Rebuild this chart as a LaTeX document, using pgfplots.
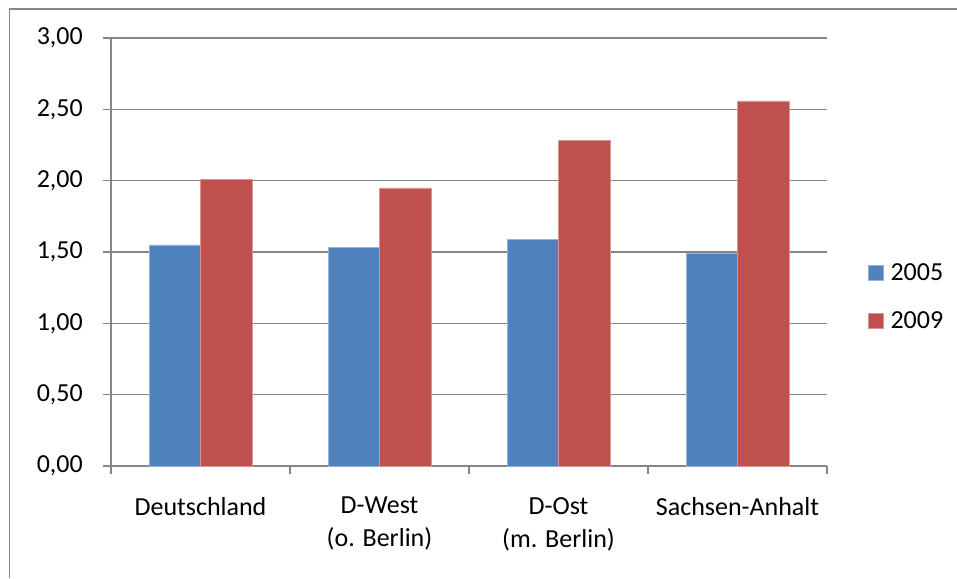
\documentclass[border=0pt]{standalone}
\usepackage{fontspec}
\setmainfont{Carlito}
\usepackage{pgfplots}
\pgfplotsset{compat=1.18}
\definecolor{cblue}{HTML}{4F81BD}
\definecolor{cred}{HTML}{C0504D}
\definecolor{agray}{HTML}{868686}
\begin{document}
\begin{tikzpicture}
\useasboundingbox (0pt,0pt) rectangle (957pt,578pt);
\draw[agray, line width=1.3pt] (9.5pt,0pt) -- (9.5pt,569pt) -- (957pt,569pt);
\begin{axis}[
  at={(111pt,112pt)}, anchor=south west,
  scale only axis, width=716pt, height=428pt,
  xmin=-0.5, xmax=3.5, ymin=0, ymax=3,
  ybar=0pt, bar width=51.5pt,
  axis x line=bottom, axis y line=left,
  axis line style={-, agray, line width=1.3pt},
  ymajorgrids, grid style={agray, line width=1.3pt},
  ytick={0,0.5,1,1.5,2,2.5,3},
  /pgf/number format/fixed, /pgf/number format/fixed zerofill,
  /pgf/number format/precision=2, /pgf/number format/use comma,
  /pgf/number format/assume math mode=true,
  yticklabel style={font=\fontsize{26}{30}\selectfont, anchor=east, inner sep=0pt, xshift=-20pt},
  tick align=outside, major tick length=8pt, tick style={agray, line width=1.3pt},
  xtick={-0.5,0.5,1.5,2.5,3.5}, x tick label as interval,
  xticklabels={Deutschland, {D-West\\(o. Berlin)}, {D-Ost\\(m. Berlin)}, Sachsen-Anhalt},
  xticklabel style={font=\fontsize{26}{33}\selectfont, align=center, anchor=north, inner sep=0pt, yshift=-23pt},
  legend style={at={(1.057,0.396)}, anchor=west, draw=none, fill=none,
    font=\fontsize{26}{30}\selectfont, row sep=30pt, column sep=7pt, inner sep=0pt,
    nodes={inner sep=0pt}},
  legend cell align=left,
  legend image code/.code={\fill[#1] (0pt,-7.5pt) rectangle (15pt,7.5pt);},
]
\addplot[fill=cblue, draw=cblue!60!white, line width=0.5pt] coordinates {(0,1.55) (1,1.535) (2,1.59) (3,1.49)};
\addplot[fill=cred, draw=cred!60!white, line width=0.5pt] coordinates {(0,2.01) (1,1.95) (2,2.285) (3,2.56)};
\legend{2005,2009}
\end{axis}
\end{tikzpicture}
\end{document}
